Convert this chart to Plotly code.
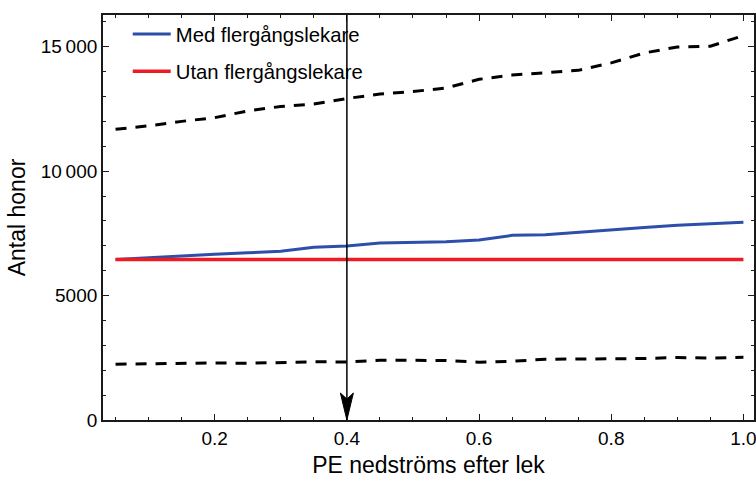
import plotly.graph_objects as go

# PE downstream after spawning (x) and number of females (y)
pe = [0.05, 0.10, 0.15, 0.20, 0.25, 0.30, 0.35, 0.40, 0.45, 0.50,
      0.55, 0.60, 0.65, 0.70, 0.75, 0.80, 0.85, 0.90, 0.95, 1.00]

med_flergang = [6450, 6530, 6610, 6660, 6720, 6780, 6940, 6990, 7110, 7130,
                7160, 7230, 7420, 7440, 7550, 7660, 7740, 7830, 7880, 7950]
utan_flergang = [6450] * len(pe)

ovre_grans = [11680, 11820, 12000, 12150, 12420, 12600, 12700, 12920, 13100, 13200,
              13340, 13690, 13860, 13960, 14050, 14350, 14750, 14990, 15020, 15450]
nedre_grans = [2240, 2260, 2300, 2290, 2280, 2310, 2340, 2330, 2400, 2400,
               2390, 2320, 2360, 2440, 2440, 2460, 2470, 2510, 2490, 2520]

y_tickvals = [0, 5000, 10000, 15000]
y_ticktext = ["0", "5000", "10\u2009000", "15\u2009000"]
x_tickvals = [0.2, 0.4, 0.6, 0.8, 1.0]
x_ticktext = ["0.2", "0.4", "0.6", "0.8", "1.0"]
markerat_pe = 0.4

FONT = "Liberation Sans, Arial, sans-serif"
BLUE = "#2D4FA9"
RED = "#EC1C24"
FRAME = "#1a1a1a"

fig = go.Figure()

for vals in (ovre_grans, nedre_grans):
    fig.add_trace(go.Scatter(
        x=pe, y=vals, mode="lines", showlegend=False, hoverinfo="skip",
        line=dict(color="black", width=3, dash="11px,9px"),
    ))

fig.add_trace(go.Scatter(
    x=pe, y=med_flergang, mode="lines", name="Med flergångslekare",
    legendgroup="med", line=dict(color=BLUE, width=3),
))
fig.add_trace(go.Scatter(
    x=pe, y=utan_flergang, mode="lines", name="Utan flergångslekare",
    legendgroup="utan", line=dict(color=RED, width=3.5),
))

# vertical marker line with a notched arrowhead at the x axis
fig.add_shape(type="line", xref="x", yref="y domain",
              x0=markerat_pe, x1=markerat_pe, y0=0, y1=1,
              line=dict(color="black", width=1.5), layer="above")
fig.add_shape(type="path", xref="x", yref="y",
              xsizemode="pixel", ysizemode="pixel",
              xanchor=markerat_pe, yanchor=0,
              path="M0,0 L-6.5,27 L0,21 L6.5,27 Z",
              fillcolor="black", line=dict(color="black", width=1),
              layer="above")

axis_common = dict(
    showline=True, linecolor=FRAME, linewidth=1.8, mirror="allticks",
    ticks="inside", tickcolor=FRAME, tickwidth=1.2, ticklen=6,
    showgrid=False, zeroline=False,
    tickfont=dict(family=FONT, size=19, color="black"),
    minor=dict(ticks="inside", ticklen=3.5, tickwidth=1, tickcolor=FRAME),
    ticklabeloverflow="allow",
)

fig.update_xaxes(
    range=[0.031, 1.016], tickvals=x_tickvals, ticktext=x_ticktext,
    minor_dtick=0.05, minor_tick0=0,
    title=dict(text="PE nedströms efter lek", font=dict(family=FONT, size=23, color="black"),
               standoff=10),
    **axis_common,
)
fig.update_yaxes(
    range=[0, 16275], tickvals=y_tickvals, ticktext=y_ticktext,
    minor_dtick=1000, minor_tick0=0,
    title=dict(text="Antal honor", font=dict(family=FONT, size=23, color="black"),
               standoff=9),
    **axis_common,
)

fig.update_layout(
    width=756, height=478,
    margin=dict(l=103, r=2, t=15, b=58, autoexpand=False),
    plot_bgcolor="white", paper_bgcolor="white",
    font=dict(family=FONT, color="black"),
    legend=dict(
        x=0.038, y=1.002, xanchor="left", yanchor="top",
        font=dict(family=FONT, size=20.3, color="black"),
        bgcolor="rgba(0,0,0,0)", tracegroupgap=8, itemwidth=38,
    ),
)

fig.write_html("out.html")
